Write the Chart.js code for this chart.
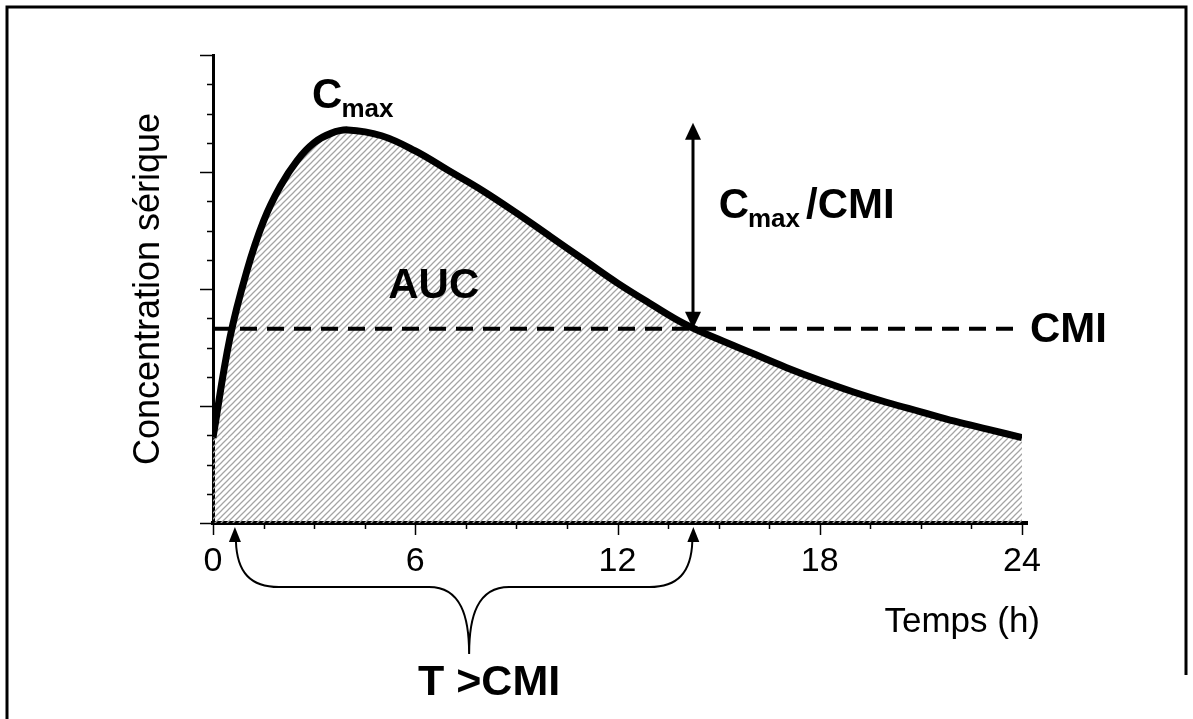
<!DOCTYPE html>
<html>
<head>
<meta charset="utf-8">
<script src="https://cdn.jsdelivr.net/npm/chart.js@4.4.1/dist/chart.umd.min.js"></script>
<style>
  body { margin: 0; background: #fff; }
</style>
</head>
<body>
<canvas id="pkChart" width="1193" height="719"></canvas>
<script>
const FONT = "'Liberation Sans', Arial, sans-serif";

// time (h) and serum concentration
const hours = [0, 0.5, 1, 1.5, 2, 2.5, 3, 3.5, 4, 5, 6, 7, 8, 9, 10, 11, 12, 13, 14, 15, 16, 17, 18, 19, 20, 21, 22, 23, 24];
const concentration = [0.73, 1.58, 2.15, 2.58, 2.88, 3.10, 3.25, 3.33, 3.36, 3.31, 3.18, 3.01, 2.84, 2.65, 2.45, 2.25, 2.05, 1.87, 1.70, 1.57, 1.45, 1.33, 1.22, 1.12, 1.03, 0.95, 0.87, 0.80, 0.73];
const cmiLevel = 1.66;
const cmiLine = [0, 24];
const cmiCrossings = [0.65, 14.25];
const seamLevel = 0.73;
const xTickStep = 6;
const xMinorStep = 1.5;
const yMinorStep = 0.25;

// hatch pattern for the AUC
const hatch = document.createElement("canvas");
hatch.width = 6;
hatch.height = 6;
const hc = hatch.getContext("2d");
hc.strokeStyle = "#a4a4a4";
hc.lineWidth = 1.25;
hc.beginPath();
hc.moveTo(0, 6); hc.lineTo(6, 0);
hc.moveTo(-1, 1); hc.lineTo(1, -1);
hc.moveTo(5, 7); hc.lineTo(7, 5);
hc.stroke();

const ctx = document.getElementById("pkChart").getContext("2d");
const hatchPattern = ctx.createPattern(hatch, "repeat");

function arrowHead(c, x, y, dir, w, h) {
  // dir = -1 points up, 1 points down
  c.beginPath();
  c.moveTo(x, y);
  c.lineTo(x - w / 2, y - dir * h);
  c.lineTo(x + w / 2, y - dir * h);
  c.closePath();
  c.fill();
}

const annotations = {
  id: "annotations",
  afterDraw(chart) {
    const c = chart.ctx;
    const xs = chart.scales.x;
    const ys = chart.scales.y;
    const area = chart.chartArea;
    c.save();
    c.fillStyle = "#000";
    c.strokeStyle = "#000";

    // axis ticks
    c.lineWidth = 1.5;
    for (let v = 0; v <= 24.001; v += xMinorStep) {
      const px = Math.round(xs.getPixelForValue(v)) + 0.5;
      const major = Math.abs(v % xTickStep) < 0.001;
      c.beginPath();
      c.moveTo(px, area.bottom);
      c.lineTo(px, area.bottom + (major ? 12 : 6));
      c.stroke();
    }
    for (let v = 0; v <= 4.001; v += yMinorStep) {
      const py = Math.round(ys.getPixelForValue(v)) + 0.5;
      const major = Math.abs(v % 1) < 0.001;
      c.beginPath();
      c.moveTo(area.left, py);
      c.lineTo(area.left - (major ? 13 : 6), py);
      c.stroke();
    }
    // axis runs a little past 24
    c.lineWidth = 4;
    c.beginPath();
    c.moveTo(area.right, area.bottom);
    c.lineTo(area.right + 6, area.bottom);
    c.stroke();

    // Cmax label
    const cmaxX = xs.getPixelForValue(2.94);
    const cmaxY = ys.getPixelForValue(3.55);
    c.textBaseline = "alphabetic";
    c.textAlign = "left";
    c.font = "bold 42px " + FONT;
    c.fillText("C", cmaxX, cmaxY);
    let w = c.measureText("C").width;
    c.font = "bold 26px " + FONT;
    c.fillText("max", cmaxX + w - 1, cmaxY + 9);

    // AUC
    c.font = "bold 42px " + FONT;
    c.fillText("AUC", xs.getPixelForValue(5.2), ys.getPixelForValue(1.92));

    // Cmax/CMI double arrow
    const ax = Math.round(xs.getPixelForValue(cmiCrossings[1]));
    const aTop = ys.getPixelForValue(3.42);
    const aBot = ys.getPixelForValue(cmiLevel);
    c.lineWidth = 3;
    c.beginPath();
    c.moveTo(ax, aTop + 10);
    c.lineTo(ax, aBot - 10);
    c.stroke();
    arrowHead(c, ax, aTop, -1, 16, 17);
    arrowHead(c, ax, aBot, 1, 16, 17);

    // Cmax /CMI label
    const rx = xs.getPixelForValue(15.0);
    const ry = ys.getPixelForValue(2.61);
    c.font = "bold 42px " + FONT;
    c.fillText("C", rx, ry);
    w = c.measureText("C").width;
    c.font = "bold 26px " + FONT;
    c.fillText("max", rx + w - 1, ry + 9);
    const w2 = c.measureText("max").width;
    c.font = "bold 42px " + FONT;
    c.fillText("/CMI", rx + w + w2 + 5, ry);

    // CMI label at right
    c.textBaseline = "middle";
    c.fillText("CMI", area.right + 8, ys.getPixelForValue(cmiLevel) + 2);

    // T > CMI brace with arrows
    const lx = xs.getPixelForValue(cmiCrossings[0]);
    const rgx = xs.getPixelForValue(cmiCrossings[1]);
    const mid = (lx + rgx) / 2 + 5;
    const tipY = area.bottom + 4;
    const braceY = area.bottom + 64;
    const bottomY = area.bottom + 131;
    c.lineWidth = 2;
    c.beginPath();
    c.moveTo(lx + 1, tipY + 14);
    c.bezierCurveTo(lx + 2, braceY - 14, lx + 16, braceY, lx + 44, braceY);
    c.lineTo(mid - 40, braceY);
    c.bezierCurveTo(mid - 8, braceY, mid, braceY + 30, mid, bottomY);
    c.bezierCurveTo(mid, braceY + 30, mid + 8, braceY, mid + 40, braceY);
    c.lineTo(rgx - 44, braceY);
    c.bezierCurveTo(rgx - 16, braceY, rgx - 2, braceY - 14, rgx - 1, tipY + 14);
    c.stroke();
    arrowHead(c, lx, tipY, -1, 12, 15);
    arrowHead(c, rgx, tipY, -1, 12, 15);

    c.textBaseline = "alphabetic";
    c.textAlign = "left";
    c.font = "bold 43px " + FONT;
    c.fillText("T >CMI", 418, area.bottom + 172);

    // x axis title
    c.font = "35px " + FONT;
    c.textAlign = "right";
    c.fillText("Temps (h)", area.right + 18, area.bottom + 109);

    // frame
    c.lineWidth = 3;
    c.beginPath();
    c.moveTo(7, 719);
    c.lineTo(7, 7);
    c.lineTo(1186, 7);
    c.lineTo(1186, 675);
    c.stroke();
    c.restore();
  }
};

new Chart(ctx, {
  type: "line",
  data: {
    datasets: [
      {
        label: "Concentration",
        data: hours.map((h, i) => ({ x: h, y: concentration[i] })),
        borderColor: "#000",
        borderWidth: 7,
        backgroundColor: hatchPattern,
        fill: "origin",
        pointRadius: 0,
        tension: 0.4,
      },
      {
        label: "CMI",
        data: cmiLine.map((h) => ({ x: h, y: cmiLevel })),
        borderColor: "#000",
        borderWidth: 4,
        borderDash: [17, 10],
        fill: false,
        pointRadius: 0,
      },
      {
        label: "seam",
        data: cmiLine.map((h) => ({ x: h, y: seamLevel })),
        borderColor: "rgba(255,255,255,0.7)",
        borderWidth: 1,
        borderDash: [3, 3],
        fill: false,
        pointRadius: 0,
      },
    ],
  },
  options: {
    responsive: false,
    animation: false,
    layout: { padding: { left: 0, right: 171, top: 55, bottom: 0 } },
    plugins: {
      legend: { display: false },
      tooltip: { enabled: false },
      filler: { drawTime: "beforeDatasetsDraw" },
    },
    scales: {
      x: {
        type: "linear",
        min: 0,
        max: 24,
        grid: { display: false, drawTicks: false },
        border: { display: true, color: "#000", width: 4 },
        ticks: {
          stepSize: xTickStep,
          color: "#000",
          font: { family: FONT, size: 34 },
          padding: 18,
          maxRotation: 0,
        },
        afterFit: (s) => { s.height = 196; },
      },
      y: {
        min: 0,
        max: 4,
        grid: { display: false, drawTicks: false },
        border: { display: true, color: "#000", width: 3 },
        ticks: { display: false },
        title: {
          display: true,
          text: "Concentration sérique",
          color: "#000",
          font: { family: FONT, size: 36 },
          padding: { top: 127, bottom: 0 },
        },
        afterFit: (s) => { s.width = 213; },
      },
    },
  },
  plugins: [annotations],
});
</script>
</body>
</html>
